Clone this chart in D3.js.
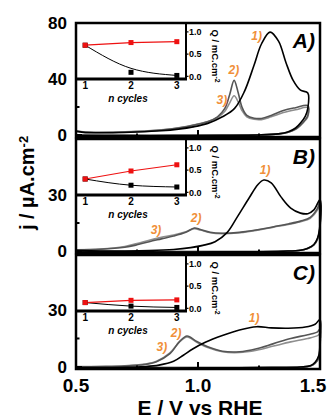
<!DOCTYPE html>
<html>
<head>
<meta charset="utf-8">
<script src="https://cdn.jsdelivr.net/npm/d3@7"></script>
<style>
  body { margin: 0; background: #fff; }
  svg { display: block; }
  text { font-family: "Liberation Sans", Arial, sans-serif; font-weight: bold; }
</style>
</head>
<body>
<div id="chart"></div>
<script>
const cycleTags = ["1)", "2)", "3)"];
const nCycles = [1, 2, 3];
const xTicks = [0.5, 1.0, 1.5];
const xMinor = [0.75, 1.25];
const qTicks = [0.0, 0.5, 1.0];

// panel A, [E, j] forward then return sweep
const aCycle1 = [[0.50,2.6],[0.53,1.9],[0.58,1.6],[0.65,1.6],[0.75,2.1],[0.85,3.0],[0.92,4.2],[0.98,5.8],[1.04,8.3],[1.10,13],[1.15,19],[1.19,31],[1.23,50],[1.26,65],[1.295,73.5],[1.33,67],[1.36,52],[1.39,39],[1.42,32],[1.45,30],
  [1.45,19],[1.44,13.5],[1.42,8.5],[1.40,5],[1.37,2.3],[1.33,0.8],[1.25,0],[1.10,-0.3],[0.90,-0.4],[0.70,-0.4],[0.50,-0.3]];
const aCycle2 = [[0.50,2.8],[0.53,2.1],[0.58,1.8],[0.65,1.9],[0.75,2.5],[0.85,3.6],[0.92,5],[0.98,7],[1.04,9.5],[1.08,13],[1.11,19],[1.13,29],[1.148,39],[1.165,30],[1.18,20],[1.20,14],[1.23,12],[1.26,11.8],[1.30,14],[1.35,17.5],[1.40,19.5],[1.45,21],
  [1.45,14],[1.44,11],[1.42,7],[1.40,4.2],[1.37,2],[1.33,0.8],[1.25,0.1],[1.10,-0.2],[0.90,-0.3],[0.70,-0.3],[0.50,-0.2]];
const aCycle3 = [[0.50,2.9],[0.53,2.2],[0.58,1.9],[0.65,2.0],[0.75,2.6],[0.85,3.7],[0.92,5.2],[0.98,7.2],[1.04,9.6],[1.08,12.5],[1.11,17],[1.13,23],[1.148,28],[1.165,23.5],[1.18,17.5],[1.20,13],[1.23,11.2],[1.26,11],[1.30,13],[1.35,16],[1.40,18],[1.45,19.5],
  [1.45,13],[1.44,10.5],[1.42,6.8],[1.40,4],[1.37,2],[1.33,0.8],[1.25,0.1],[1.10,-0.2],[0.90,-0.3],[0.70,-0.3],[0.50,-0.2]];
const aQred = [0.70, 0.76, 0.78];
const aQblack = [0.70, 0.09, 0.02];
const aQfit = [0.70, 0.18, 0.02];

// panel B
const bCycle1 = [[0.50,0.2],[0.60,0],[0.70,0],[0.80,0.2],[0.90,0.8],[0.97,1.8],[1.02,3],[1.07,5],[1.12,10],[1.16,18],[1.21,28.5],[1.245,35.5],[1.27,38],[1.30,36.5],[1.34,29],[1.38,23],[1.42,20.3],[1.45,20],[1.475,22],[1.50,27.5],
  [1.50,14],[1.49,7],[1.475,3.5],[1.45,1.5],[1.42,0.4],[1.35,-0.1],[1.20,-0.4],[1.00,-0.5],[0.80,-0.5],[0.60,-0.5],[0.50,-0.4]];
const bCycle2 = [[0.50,0.6],[0.60,0.9],[0.70,2],[0.75,3.3],[0.80,5],[0.85,6.5],[0.90,8],[0.95,10],[0.985,12.3],[1.01,11.5],[1.05,10],[1.10,9.5],[1.17,10],[1.25,11.5],[1.31,13],[1.37,14.5],[1.42,16],[1.46,18],[1.49,23],[1.50,26.5],
  [1.50,13],[1.49,6.5],[1.475,3.3],[1.45,1.4],[1.42,0.4],[1.35,0],[1.20,-0.3],[1.00,-0.3],[0.80,-0.3],[0.60,-0.2],[0.50,-0.1]];
const bCycle3 = [[0.50,0.7],[0.60,1.0],[0.70,2.4],[0.75,4],[0.80,5.8],[0.85,7.3],[0.90,8.6],[0.95,10.3],[0.985,12],[1.01,11.2],[1.05,9.8],[1.10,9.3],[1.17,9.8],[1.25,11.3],[1.31,12.8],[1.37,14.2],[1.42,15.7],[1.46,17.5],[1.49,22],[1.50,25.5],
  [1.50,12.5],[1.49,6.3],[1.475,3.2],[1.45,1.4],[1.42,0.4],[1.35,0],[1.20,-0.3],[1.00,-0.3],[0.80,-0.3],[0.60,-0.2],[0.50,-0.1]];
const bQred = [0.30, 0.48, 0.62];
const bQblack = [0.30, 0.16, 0.12];

// panel C
const cCycle1 = [[0.50,-0.3],[0.60,-0.3],[0.70,-0.2],[0.78,0.2],[0.84,1],[0.90,3],[0.94,6.2],[0.98,9.6],[1.03,13],[1.10,16.6],[1.17,19.5],[1.24,21.2],[1.30,20.6],[1.37,20.4],[1.44,21],[1.48,22.5],[1.50,25],
  [1.50,13],[1.495,6],[1.48,2.5],[1.46,0.6],[1.42,0],[1.30,-0.3],[1.10,-0.4],[0.90,-0.5],[0.70,-0.5],[0.50,-0.4]];
const cCycle2 = [[0.50,0.1],[0.60,0.2],[0.70,0.5],[0.78,1.3],[0.83,2.8],[0.885,7],[0.925,13.5],[0.955,16.3],[0.995,13.4],[1.04,10.6],[1.10,8.3],[1.17,8],[1.24,9.6],[1.31,12.3],[1.38,15],[1.45,17],[1.49,18.5],[1.50,20],
  [1.50,11],[1.495,5],[1.48,2],[1.46,0.5],[1.42,0],[1.30,-0.2],[1.10,-0.3],[0.90,-0.3],[0.70,-0.3],[0.50,-0.2]];
const cCycle3 = [[0.50,0.2],[0.60,0.3],[0.70,0.6],[0.78,1.5],[0.83,3],[0.885,7.4],[0.925,13.3],[0.955,15.8],[0.995,13],[1.04,10.2],[1.10,8],[1.17,7.6],[1.24,8.8],[1.31,11],[1.38,13.2],[1.45,15],[1.49,16.5],[1.50,17.5],
  [1.50,10],[1.495,4.6],[1.48,1.9],[1.46,0.5],[1.42,0],[1.30,-0.2],[1.10,-0.3],[0.90,-0.3],[0.70,-0.3],[0.50,-0.2]];
const cQred = [0.13, 0.18, 0.19];
const cQblack = [0.13, 0.05, 0.02];

const W = 332, H = 418;
const left = 76, right = 320, panelH = 114;
const insetW = 110, insetH = 56;
const cycleColors = ["#000000", "#555555", "#8e8e8e"];
const orange = "#f0903a";

const panels = [
  { name: "A)", top: 23, dom: [-1.43, 80], ticks: [0, 40, 80], minor: [20, 60],
    cycles: [aCycle1, aCycle2, aCycle3], red: aQred, black: aQblack, fit: aQfit,
    tagAt: [[1.24, 68], [1.147, 43.6], [1.098, 22]] },
  { name: "B)", top: 139, dom: [-1.07, 60], ticks: [0, 30], minor: [15, 45],
    cycles: [bCycle1, bCycle2, bCycle3], red: bQred, black: bQblack, fit: bQblack,
    tagAt: [[1.275, 41.2], [0.992, 15.5], [0.828, 9.1]] },
  { name: "C)", top: 255, dom: [-1.05, 58.9], ticks: [0, 30], minor: [15, 45],
    cycles: [cCycle1, cCycle2, cCycle3], red: cQred, black: cQblack, fit: cQblack,
    tagAt: [[1.23, 23.7], [0.91, 15.8], [0.852, 8.4]] }
];

const svg = d3.select("#chart").append("svg")
  .attr("width", W)
  .attr("height", H);

const x = d3.scaleLinear().domain([0.5, 1.5]).range([left, right]);
const xq = d3.scaleLinear().domain([0.8, 3.2]).range([left, left + insetW]);

panels.forEach(p => {
  const bottom = p.top + panelH;
  const y = d3.scaleLinear().domain(p.dom).range([bottom, p.top]);
  const g = svg.append("g");

  const line = d3.line()
    .x(d => x(d[0]))
    .y(d => y(d[1]))
    .curve(d3.curveCatmullRom.alpha(0.5));

  [2, 1, 0].forEach(i => {
    g.append("path")
      .attr("d", line(p.cycles[i]))
      .attr("fill", "none")
      .attr("stroke", cycleColors[i])
      .attr("stroke-width", 1.6);
  });

  // ticks inside the frame
  g.selectAll(".xt").data(xTicks.concat(xMinor)).enter().append("line")
    .attr("x1", d => x(d)).attr("x2", d => x(d))
    .attr("y1", bottom).attr("y2", d => bottom - (xTicks.includes(d) ? 7 : 3.5))
    .attr("stroke", "#000").attr("stroke-width", 2);
  g.selectAll(".yt").data(p.ticks.concat(p.minor)).enter().append("line")
    .attr("x1", left).attr("x2", d => left + (p.ticks.includes(d) ? 6 : 3.5))
    .attr("y1", d => y(d)).attr("y2", d => y(d))
    .attr("stroke", "#000").attr("stroke-width", 2);

  g.selectAll(".yl").data(p.ticks).enter().append("text")
    .attr("x", 67)
    .attr("y", d => y(d))
    .attr("dy", "0.36em")
    .attr("text-anchor", "end")
    .style("font-size", "17px")
    .text(d => d);

  // inset Q vs n cycles
  const yq = d3.scaleLinear().domain([-0.06, 1.2]).range([p.top + insetH, p.top]);
  g.append("rect")
    .attr("x", left).attr("y", p.top)
    .attr("width", insetW).attr("height", insetH)
    .attr("fill", "#fff").attr("stroke", "#000").attr("stroke-width", 2);
  g.append("line")
    .attr("x1", left).attr("x2", left + insetW + 1)
    .attr("y1", p.top + insetH).attr("y2", p.top + insetH)
    .attr("stroke", "#000").attr("stroke-width", 3);

  g.selectAll(".qt").data(qTicks).enter().append("line")
    .attr("x1", left + insetW).attr("x2", left + insetW + 2.5)
    .attr("y1", d => yq(d)).attr("y2", d => yq(d))
    .attr("stroke", "#000").attr("stroke-width", 1.2);
  g.selectAll(".ql").data(qTicks).enter().append("text")
    .attr("x", left + insetW + 3)
    .attr("y", d => yq(d))
    .attr("dy", "0.36em")
    .style("font-size", "9px")
    .text(d => d3.format(".1f")(d));
  g.selectAll(".nl").data(nCycles).enter().append("text")
    .attr("x", d => xq(d))
    .attr("y", p.top + 66)
    .attr("text-anchor", "middle")
    .style("font-size", "10px")
    .text(d => d);
  g.append("text")
    .attr("x", 128).attr("y", p.top + 79)
    .attr("text-anchor", "middle")
    .style("font-size", "10px").style("font-style", "italic")
    .text("n cycles");

  const qTitle = g.append("text")
    .attr("transform", `translate(212,${p.top + 33}) rotate(90)`)
    .attr("text-anchor", "middle")
    .style("font-size", "9.5px");
  qTitle.append("tspan").text("Q / mC.cm");
  qTitle.append("tspan").attr("dy", "-0.45em").style("font-size", "7px").text("-2");

  const qLine = d3.line().x((d, i) => xq(nCycles[i])).y(d => yq(d));
  g.append("path")
    .attr("d", qLine.curve(d3.curveMonotoneX)(p.fit))
    .attr("fill", "none").attr("stroke", "#000").attr("stroke-width", 1);
  g.append("path")
    .attr("d", qLine.curve(d3.curveLinear)(p.red))
    .attr("fill", "none").attr("stroke", "#ee1111").attr("stroke-width", 1.2);
  g.selectAll(".qb").data(p.black).enter().append("rect")
    .attr("x", (d, i) => xq(nCycles[i]) - 2.5).attr("y", d => yq(d) - 2.5)
    .attr("width", 5).attr("height", 5).attr("fill", "#000");
  g.selectAll(".qr").data(p.red).enter().append("rect")
    .attr("x", (d, i) => xq(nCycles[i]) - 2.5).attr("y", d => yq(d) - 2.5)
    .attr("width", 5).attr("height", 5).attr("fill", "#ee1111");

  // outer frame
  g.append("rect")
    .attr("x", left).attr("y", p.top)
    .attr("width", right - left).attr("height", panelH)
    .attr("fill", "none").attr("stroke", "#000").attr("stroke-width", 2.5);

  g.selectAll(".tag").data(cycleTags).enter().append("text")
    .attr("x", (d, i) => x(p.tagAt[i][0]))
    .attr("y", (d, i) => y(p.tagAt[i][1]))
    .attr("text-anchor", "middle")
    .style("font-size", "12px").style("font-style", "italic")
    .attr("fill", orange)
    .text(d => d);

  g.append("text")
    .attr("x", 315).attr("y", p.top + 25)
    .attr("text-anchor", "end")
    .style("font-size", "21px").style("font-style", "italic")
    .text(p.name);
});

svg.selectAll(".xl").data(xTicks).enter().append("text")
  .attr("x", d => Math.min(x(d), 313))
  .attr("y", 392)
  .attr("text-anchor", "middle")
  .style("font-size", "19px")
  .text(d => d3.format(".1f")(d));

svg.append("text")
  .attr("x", 200).attr("y", 415)
  .attr("text-anchor", "middle")
  .style("font-size", "21px")
  .text("E / V vs RHE");

const yTitle = svg.append("text")
  .attr("transform", "translate(34,183) rotate(-90)")
  .attr("text-anchor", "middle")
  .style("font-size", "20px");
yTitle.append("tspan").text("j / µA.cm");
yTitle.append("tspan").attr("dy", "-0.5em").style("font-size", "13px").text("-2");
</script>
</body>
</html>
